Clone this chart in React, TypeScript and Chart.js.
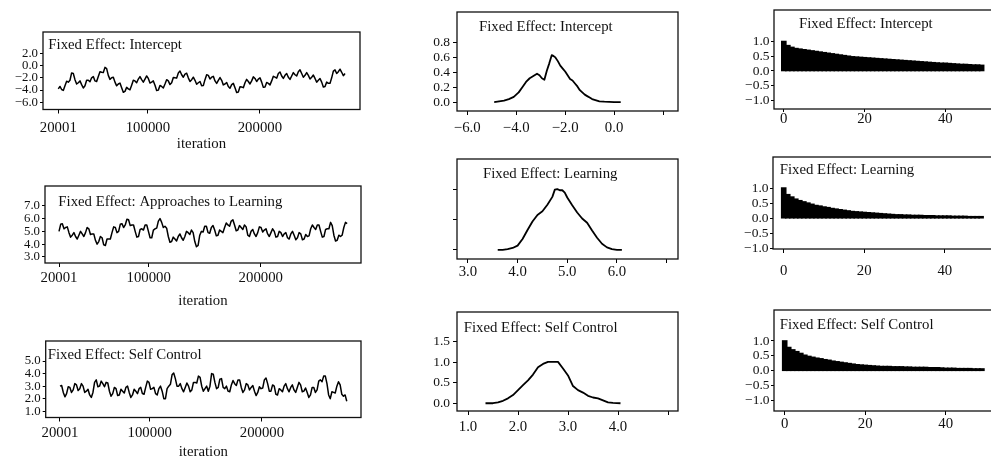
import React, { useEffect, useRef } from 'react';
import { Chart, registerables } from 'chart.js';

Chart.register(...registerables);

const FONT = '"Liberation Serif", "Times New Roman", Times, serif';
const INK = '#111111';

// ---------------- DATA ----------------
// Trace plots (posterior draws vs iteration)
const ITER_START = 20001;
const traceInterceptEnd = 276000;
const traceLearningEnd = 277000;
const traceSelfControlEnd = 275600;

const traceIntercept = [
  -3.8, -3.4, -3.9, -4.05, -3.3, -2.55, -2.7, -2.4, -1.2, -1.3, -2.3, -3.0, -2.8, -2.5, -3.1, -3.65,
  -3.3, -2.4, -2.4, -2.65, -2.0, -1.8, -2.5, -2.6, -1.8, -1.0, -1.1, -1.15, -0.3, -0.5, -1.6, -2.25,
  -2.0, -1.9, -2.7, -3.3, -3.0, -2.85, -3.6, -4.35, -4.2, -3.55, -3.8, -3.95, -3.2, -2.4, -2.5, -2.8,
  -2.2, -1.8, -2.3, -2.7, -2.2, -1.7, -2.1, -2.85, -2.7, -2.5, -3.2, -4.05, -4.0, -3.25, -3.4, -3.65,
  -3.0, -2.3, -2.5, -3.1, -2.8, -1.95, -2.0, -2.05, -1.2, -0.9, -1.5, -1.9, -1.4, -1.25, -2.0, -2.6,
  -2.3, -1.9, -2.4, -3.05, -2.8, -2.6, -3.3, -3.25, -2.3, -1.5, -1.6, -2.2, -1.9, -1.75, -2.5, -2.9,
  -2.4, -1.95, -2.4, -3.15, -3.0, -2.75, -3.4, -3.7, -3.1, -2.9, -3.6, -4.4, -4.3, -3.45, -3.5, -3.6,
  -2.8, -2.25, -2.6, -3.0, -2.5, -1.85, -2.1, -2.6, -2.2, -2.0, -2.7, -3.55, -3.5, -2.75, -2.9, -3.15,
  -2.5, -1.75, -1.9, -2.05, -1.3, -1.05, -1.7, -2.1, -1.6, -1.3, -1.9, -2.25, -1.7, -1.15, -1.5, -1.7,
  -1.0, -0.7, -1.3, -1.9, -1.6, -1.15, -1.6, -2.2, -1.9, -1.55, -2.1, -2.7, -2.4, -2.1, -2.7, -3.5,
  -3.4, -2.7, -2.9, -2.9, -2.0, -0.9, -0.7, -1.3, -1.0, -0.6, -1.1, -1.65, -1.3,
];

const traceLearning = [
  5.0, 5.55, 5.6, 5.2, 5.3, 5.35, 4.9, 4.55, 4.7, 4.9, 4.6, 4.4, 4.7, 5.0, 4.8, 4.6, 4.9, 5.3, 5.2, 4.75,
  4.8, 4.8, 4.3, 4.0, 4.2, 4.6, 4.5, 3.95, 3.9, 4.4, 4.4, 4.4, 4.9, 5.35, 5.3, 4.9, 5.0, 5.55, 5.6, 5.3,
  5.5, 5.95, 5.9, 5.45, 5.5, 5.5, 5.0, 4.55, 4.6, 5.15, 5.2, 5.1, 5.5, 5.5, 5.0, 4.5, 4.5, 5.1, 5.2, 5.25,
  5.8, 6.0, 5.7, 5.3, 5.4, 5.25, 4.6, 4.15, 4.2, 4.55, 4.4, 4.25, 4.6, 4.8, 4.5, 4.3, 4.6, 5.0, 4.9, 4.75,
  5.1, 4.9, 4.2, 3.8, 3.9, 4.7, 5.0, 4.95, 5.4, 5.4, 4.9, 4.85, 5.3, 5.45, 5.1, 4.65, 4.7, 5.1, 5.0, 4.9,
  5.3, 5.65, 5.5, 5.4, 5.8, 5.9, 5.5, 5.05, 5.1, 5.45, 5.3, 5.15, 5.5, 5.35, 4.7, 4.6, 5.0, 5.15, 4.8, 4.6,
  4.9, 5.35, 5.3, 4.95, 5.1, 5.2, 4.8, 4.6, 4.9, 5.2, 5.0, 4.55, 4.6, 5.0, 4.9, 4.6, 4.8, 4.9, 4.5, 4.4,
  4.8, 5.0, 4.7, 4.35, 4.5, 4.9, 4.8, 4.35, 4.4, 4.75, 4.6, 4.65, 5.2, 5.5, 5.3, 5.15, 5.5, 5.5, 5.0, 4.55,
  4.6, 5.15, 5.2, 5.2, 5.7, 5.45, 4.7, 4.25, 4.3, 4.7, 4.6, 4.7, 5.3, 5.7, 5.6,
];

const traceSelfControl = [
  3.0, 3.05, 2.5, 2.15, 2.4, 2.95, 2.9, 2.5, 2.7, 3.2, 3.1, 2.65, 2.8, 3.2, 3.0, 2.5, 2.6, 2.75, 2.3, 2.1,
  2.5, 3.3, 3.5, 2.95, 3.0, 3.4, 3.2, 2.95, 3.3, 3.25, 2.6, 2.2, 2.4, 2.9, 2.8, 2.25, 2.3, 2.75, 2.6, 2.45,
  2.9, 3.0, 2.5, 2.1, 2.3, 2.75, 2.6, 2.4, 2.8, 2.9, 2.4, 2.35, 2.9, 3.4, 3.3, 2.75, 2.8, 2.9, 2.4, 2.3,
  2.8, 3.0, 2.6, 2.0, 2.0, 2.8, 3.0, 3.15, 3.9, 4.05, 3.6, 3.0, 3.0, 3.2, 2.8, 2.55, 2.9, 3.25, 3.0, 2.55,
  2.7, 3.3, 3.3, 3.25, 3.8, 3.7, 3.0, 2.6, 2.8, 3.0, 2.6, 3.0, 4.0, 3.95, 3.3, 2.8, 2.9, 3.55, 3.6, 2.9,
  2.8, 3.0, 2.6, 2.55, 3.1, 3.45, 3.2, 3.05, 3.5, 3.5, 2.9, 2.5, 2.7, 3.2, 3.1, 2.7, 2.9, 3.05, 2.6, 2.25,
  2.5, 2.95, 2.8, 2.85, 3.5, 3.65, 3.2, 2.6, 2.6, 3.1, 3.0, 2.35, 2.3, 2.8, 2.7, 2.55, 3.0, 3.2, 2.8, 2.55,
  2.9, 3.1, 2.7, 2.5, 2.9, 3.3, 3.1, 2.55, 2.6, 2.85, 2.5, 2.1, 2.3, 2.9, 2.9, 2.5, 2.7, 3.4, 3.5, 3.35,
  3.8, 3.8, 3.2, 2.3, 2.0, 2.55, 2.5, 2.45, 3.0, 3.35, 3.1, 2.35, 2.2, 2.3, 1.8,
];

const traceXTicks = [20001, 100000, 200000];
const traceXTickLabels = ['20001', '100000', '200000'];
const traceInterceptYTicks = [-6, -4, -2, 0, 2];
const traceInterceptYLabels = ['\u22126.0', '\u22124.0', '\u22122.0', '0.0', '2.0'];
const traceLearningYTicks = [3, 4, 5, 6, 7];
const traceLearningYLabels = ['3.0', '4.0', '5.0', '6.0', '7.0'];
const traceSelfControlYTicks = [1, 2, 3, 4, 5];
const traceSelfControlYLabels = ['1.0', '2.0', '3.0', '4.0', '5.0'];

// Kernel density plots
const densInterceptX = [-4.9, -4.7, -4.5, -4.3, -4.1, -3.9, -3.75, -3.6, -3.45, -3.3, -3.15, -3.05, -2.95, -2.85, -2.75, -2.65, -2.55, -2.48, -2.4, -2.3, -2.2, -2.1, -2.0, -1.9, -1.8, -1.7, -1.6, -1.5, -1.4, -1.3, -1.2, -1.1, -1.0, -0.9, -0.8, -0.7, -0.6, -0.4, -0.2, 0.0, 0.27];
const densInterceptY = [0.0, 0.01, 0.02, 0.04, 0.07, 0.13, 0.2, 0.27, 0.32, 0.35, 0.38, 0.36, 0.32, 0.30, 0.42, 0.52, 0.63, 0.62, 0.60, 0.55, 0.49, 0.45, 0.41, 0.36, 0.31, 0.29, 0.25, 0.21, 0.16, 0.13, 0.10, 0.08, 0.06, 0.04, 0.03, 0.02, 0.01, 0.005, 0.002, 0.0, 0.0];
const densInterceptXTicks = [-6, -4, -2, 0, 2];
const densInterceptXLabels = ['\u22126.0', '\u22124.0', '\u22122.0', '0.0', ''];
const densInterceptYTicks = [0, 0.2, 0.4, 0.6, 0.8];
const densInterceptYLabels = ['0.0', '0.2', '0.4', '0.6', '0.8'];

const densLearningX = [3.6, 3.7, 3.8, 3.9, 4.0, 4.1, 4.2, 4.3, 4.4, 4.5, 4.6, 4.7, 4.75, 4.8, 4.85, 4.9, 4.95, 5.0, 5.1, 5.2, 5.3, 5.4, 5.5, 5.6, 5.7, 5.8, 5.9, 6.0, 6.1];
const densLearningY = [0.0, 0.0, 0.01, 0.03, 0.07, 0.18, 0.33, 0.47, 0.58, 0.64, 0.75, 0.88, 1.0, 1.01, 0.99, 0.99, 0.95, 0.87, 0.74, 0.62, 0.52, 0.45, 0.32, 0.2, 0.1, 0.04, 0.01, 0.0, 0.0];
const densLearningXTicks = [3, 4, 5, 6, 7];
const densLearningXLabels = ['3.0', '4.0', '5.0', '6.0', ''];
const densLearningYTicks = [0, 0.5, 1.0];
const densLearningYLabels = ['', '', ''];

const densSelfControlX = [1.35, 1.5, 1.6, 1.7, 1.8, 1.9, 2.0, 2.1, 2.2, 2.3, 2.4, 2.5, 2.6, 2.7, 2.8, 2.9, 3.0, 3.1, 3.2, 3.3, 3.4, 3.5, 3.6, 3.7, 3.8, 3.9, 4.05];
const densSelfControlY = [0.0, 0.0, 0.02, 0.06, 0.12, 0.2, 0.32, 0.44, 0.56, 0.7, 0.88, 0.96, 1.01, 1.01, 1.01, 0.85, 0.68, 0.42, 0.32, 0.26, 0.18, 0.14, 0.12, 0.07, 0.02, 0.01, 0.0];
const densSelfControlXTicks = [1, 2, 3, 4, 5];
const densSelfControlXLabels = ['1.0', '2.0', '3.0', '4.0', ''];
const densSelfControlYTicks = [0, 0.5, 1.0, 1.5];
const densSelfControlYLabels = ['0.0', '0.5', '1.0', '1.5'];

// Autocorrelation plots
const acfLags = Array.from({ length: 50 }, (_, i) => i);
const acfIntercept = [1.0, 0.86, 0.80, 0.76, 0.74, 0.72, 0.70, 0.68, 0.66, 0.64, 0.62, 0.60, 0.58, 0.56, 0.54, 0.52, 0.50, 0.48, 0.47, 0.46, 0.45, 0.44, 0.43, 0.42, 0.41, 0.40, 0.39, 0.38, 0.37, 0.36, 0.35, 0.34, 0.33, 0.32, 0.31, 0.30, 0.29, 0.28, 0.27, 0.26, 0.26, 0.25, 0.24, 0.23, 0.22, 0.22, 0.21, 0.20, 0.20, 0.19];
const acfLearning = [1.0, 0.78, 0.70, 0.63, 0.58, 0.54, 0.50, 0.46, 0.42, 0.40, 0.37, 0.35, 0.32, 0.30, 0.28, 0.26, 0.24, 0.22, 0.21, 0.20, 0.19, 0.18, 0.17, 0.16, 0.15, 0.14, 0.13, 0.12, 0.11, 0.11, 0.10, 0.10, 0.09, 0.09, 0.09, 0.08, 0.08, 0.08, 0.07, 0.07, 0.07, 0.07, 0.06, 0.06, 0.06, 0.06, 0.05, 0.05, 0.05, 0.05];
const acfSelfControl = [1.0, 0.78, 0.70, 0.64, 0.58, 0.52, 0.48, 0.45, 0.42, 0.40, 0.37, 0.35, 0.32, 0.30, 0.28, 0.26, 0.24, 0.22, 0.20, 0.19, 0.18, 0.17, 0.16, 0.15, 0.14, 0.14, 0.14, 0.13, 0.13, 0.13, 0.12, 0.12, 0.11, 0.11, 0.11, 0.11, 0.10, 0.10, 0.10, 0.09, 0.08, 0.08, 0.08, 0.07, 0.07, 0.07, 0.07, 0.06, 0.06, 0.06];
const acfXTicks = [0, 20, 40];
const acfXLabels = ['0', '20', '40'];
const acfYTicks = [-1, -0.5, 0, 0.5, 1];
const acfYLabels = ['\u22121.0', '\u22120.5', '0.0', '0.5', '1.0'];

const TITLE_INTERCEPT = 'Fixed Effect: Intercept';
const TITLE_APPROACHES = 'Fixed Effect: Approaches to Learning';
const TITLE_LEARNING = 'Fixed Effect: Learning';
const TITLE_SELF = 'Fixed Effect: Self Control';

// ---------------- LAYOUT ----------------
const PAD_TOP = 12;
const PAD_RIGHT = 4;

type Kind = 'trace' | 'density' | 'acf';
type PanelSpec = {
  kind: Kind;
  title: string;
  box: [number, number, number, number];
  yW: number;
  xH: number;
  xRange: [number, number];
  yRange: [number, number];
  xTicks: number[];
  xLabels: string[];
  yTicks: number[];
  yLabels: string[];
  xs: number[];
  ys: number[];
  titleDx: number;
  titleDy: number;
  xTL: number;
  xPad: number;
  yTL: number;
  yPad: number;
  yFont: number;
};

function iterations(n: number, end: number): number[] {
  const step = (end - ITER_START) / (n - 1);
  return Array.from({ length: n }, (_, i) => ITER_START + i * step);
}

const PANELS: PanelSpec[] = [
  {
    kind: 'trace', title: TITLE_INTERCEPT, box: [43, 32, 360, 109], yW: 43, xH: 42.5,
    xRange: [6340, 289376], yRange: [-7.15, 5.45],
    xTicks: traceXTicks, xLabels: traceXTickLabels, yTicks: traceInterceptYTicks, yLabels: traceInterceptYLabels,
    xs: iterations(traceIntercept.length, traceInterceptEnd), ys: traceIntercept,
    titleDx: 5.3, titleDy: 16.6, xTL: 4, xPad: 7.5, yTL: 3, yPad: 2, yFont: 12.8,
  },
  {
    kind: 'trace', title: TITLE_APPROACHES, box: [45, 186, 360.7, 263], yW: 45, xH: 46,
    xRange: [7501, 289376], yRange: [2.53, 8.54],
    xTicks: traceXTicks, xLabels: traceXTickLabels, yTicks: traceLearningYTicks, yLabels: traceLearningYLabels,
    xs: iterations(traceLearning.length, traceLearningEnd), ys: traceLearning,
    titleDx: 13.3, titleDy: 19.6, xTL: 4, xPad: 4, yTL: 3, yPad: 2, yFont: 12.8,
  },
  {
    kind: 'trace', title: TITLE_SELF, box: [45.7, 340.5, 361.3, 417], yW: 45.7, xH: 42.5,
    xRange: [7267, 288301], yRange: [0.5, 6.6],
    xTicks: traceXTicks, xLabels: traceXTickLabels, yTicks: traceSelfControlYTicks, yLabels: traceSelfControlYLabels,
    xs: iterations(traceSelfControl.length, traceSelfControlEnd), ys: traceSelfControl,
    titleDx: 2, titleDy: 18.4, xTL: 4, xPad: 4.2, yTL: 3, yPad: 2, yFont: 12.8,
  },
  {
    kind: 'density', title: TITLE_INTERCEPT, box: [456.5, 12, 677, 111], yW: 60, xH: 30,
    xRange: [-6.42, 2.61], yRange: [-0.12, 1.21],
    xTicks: densInterceptXTicks, xLabels: densInterceptXLabels, yTicks: densInterceptYTicks, yLabels: densInterceptYLabels,
    xs: densInterceptX, ys: densInterceptY,
    titleDx: 22, titleDy: 19.3, xTL: 4, xPad: 5.5, yTL: 4, yPad: 3, yFont: 13.5,
  },
  {
    kind: 'density', title: TITLE_LEARNING, box: [456.7, 158.5, 677.7, 258.5], yW: 60, xH: 30,
    xRange: [2.78, 7.23], yRange: [-0.153, 1.51],
    xTicks: densLearningXTicks, xLabels: densLearningXLabels, yTicks: densLearningYTicks, yLabels: densLearningYLabels,
    xs: densLearningX, ys: densLearningY,
    titleDx: 26, titleDy: 19.4, xTL: 4, xPad: 1.5, yTL: 4, yPad: 3, yFont: 13.5,
  },
  {
    kind: 'density', title: TITLE_SELF, box: [457.3, 312, 678.3, 410.5], yW: 60, xH: 30,
    xRange: [0.78, 5.2], yRange: [-0.19, 2.23],
    xTicks: densSelfControlXTicks, xLabels: densSelfControlXLabels, yTicks: densSelfControlYTicks, yLabels: densSelfControlYLabels,
    xs: densSelfControlX, ys: densSelfControlY,
    titleDx: 6.7, titleDy: 20.3, xTL: 4, xPad: 4.5, yTL: 4, yPad: 3, yFont: 13.5,
  },
  {
    kind: 'acf', title: TITLE_INTERCEPT, box: [773.5, 10, 998, 109.3], yW: 50, xH: 30,
    xRange: [-2.43, 53.3], yRange: [-1.29, 2.07],
    xTicks: acfXTicks, xLabels: acfXLabels, yTicks: acfYTicks, yLabels: acfYLabels,
    xs: acfLags, ys: acfIntercept,
    titleDx: 25, titleDy: 17.9, xTL: 3, xPad: 0, yTL: 3, yPad: 1.5, yFont: 13.5,
  },
  {
    kind: 'acf', title: TITLE_LEARNING, box: [773.3, 157.3, 998, 249], yW: 50, xH: 32,
    xRange: [-2.66, 53.2], yRange: [-1.02, 2.03],
    xTicks: acfXTicks, xLabels: acfXLabels, yTicks: acfYTicks, yLabels: acfYLabels,
    xs: acfLags, ys: acfLearning,
    titleDx: 6.7, titleDy: 17.3, xTL: 4, xPad: 11, yTL: 3, yPad: 1.5, yFont: 13.5,
  },
  {
    kind: 'acf', title: TITLE_SELF, box: [774.3, 310, 998, 411], yW: 50, xH: 30,
    xRange: [-2.66, 53.0], yRange: [-1.35, 2.04],
    xTicks: acfXTicks, xLabels: acfXLabels, yTicks: acfYTicks, yLabels: acfYLabels,
    xs: acfLags, ys: acfSelfControl,
    titleDx: 5.7, titleDy: 18.9, xTL: 4, xPad: 2, yTL: 3, yPad: 1.5, yFont: 13.5,
  },
];

function buildConfig(p: PanelSpec): any {
  const points = p.xs.map((x, i) => ({ x, y: p.ys[i] }));
  const dataset: any =
    p.kind === 'acf'
      ? {
          type: 'bar', data: points, backgroundColor: '#000', borderWidth: 0,
          barPercentage: 1, categoryPercentage: 1, inflateAmount: 0.8,
        }
      : {
          type: 'line', data: points, borderColor: '#000',
          borderWidth: p.kind === 'trace' ? 1.5 : 1.8, pointRadius: 0, tension: 0, fill: false,
          borderJoinStyle: 'round',
        };

  const boxPlugin = {
    id: 'panelBox',
    afterDatasetsDraw(chart: any) {
      const { ctx, chartArea: a } = chart;
      ctx.save();
      ctx.strokeStyle = INK;
      ctx.lineWidth = 1.3;
      ctx.strokeRect(a.left, a.top, a.right - a.left, a.bottom - a.top);
      ctx.font = `14.8px ${FONT}`;
      ctx.fillStyle = INK;
      ctx.textAlign = 'left';
      ctx.textBaseline = 'alphabetic';
      ctx.fillText(p.title, a.left + p.titleDx, a.top + p.titleDy);
      ctx.restore();
    },
  };

  return {
    type: p.kind === 'acf' ? 'bar' : 'line',
    data: { datasets: [dataset] },
    options: {
      animation: false,
      responsive: false,
      devicePixelRatio: 1,
      events: [],
      layout: { padding: { top: PAD_TOP, right: PAD_RIGHT, left: 0, bottom: 0 } },
      plugins: { legend: { display: false }, tooltip: { enabled: false }, title: { display: false } },
      scales: {
        x: {
          type: 'linear',
          min: p.xRange[0],
          max: p.xRange[1],
          offset: false,
          afterBuildTicks: (s: any) => { s.ticks = p.xTicks.map((v) => ({ value: v })); },
          afterFit: (s: any) => { s.height = p.xH; },
          ticks: {
            autoSkip: false, maxRotation: 0, minRotation: 0, padding: p.xPad, color: INK,
            font: { family: FONT, size: 14.8, lineHeight: 1 },
            callback: (_v: any, i: number) => p.xLabels[i],
          },
          grid: { display: true, drawOnChartArea: false, drawTicks: true, tickLength: p.xTL, color: '#000', offset: false },
          border: { display: false },
          title: p.kind === 'trace'
            ? { display: true, text: 'iteration', color: INK, font: { family: FONT, size: 14.8, lineHeight: 1 }, padding: { top: 0, bottom: 0 } }
            : { display: false },
        },
        y: {
          type: 'linear',
          min: p.yRange[0],
          max: p.yRange[1],
          afterBuildTicks: (s: any) => { s.ticks = p.yTicks.map((v) => ({ value: v })); },
          afterFit: (s: any) => { s.width = p.yW; },
          ticks: {
            autoSkip: false, padding: p.yPad, color: INK,
            font: { family: FONT, size: p.yFont, lineHeight: 1 },
            callback: (_v: any, i: number) => p.yLabels[i],
          },
          grid: { display: true, drawOnChartArea: false, drawTicks: true, tickLength: p.yTL, color: '#000' },
          border: { display: false },
        },
      },
    },
    plugins: [boxPlugin],
  };
}

function Panel({ p }: { p: PanelSpec }) {
  const ref = useRef<HTMLCanvasElement | null>(null);
  const [l, t, r, b] = p.box;
  const left = Math.round(l - p.yW);
  const top = Math.round(t - PAD_TOP);
  const width = Math.round(p.yW + (r - l) + PAD_RIGHT);
  const height = Math.round(PAD_TOP + (b - t) + p.xH);

  useEffect(() => {
    const canvas = ref.current;
    if (!canvas) return;
    const chart = new Chart(canvas, buildConfig(p));
    return () => chart.destroy();
  }, [p]);

  return (
    <canvas
      ref={ref}
      width={width}
      height={height}
      style={{ position: 'absolute', left, top, width, height }}
    />
  );
}

export default function App() {
  return (
    <div
      style={{
        position: 'fixed', left: 0, top: 0, width: 991, height: 460,
        overflow: 'hidden', background: '#ffffff',
      }}
    >
      {PANELS.map((p, i) => (
        <Panel key={i} p={p} />
      ))}
    </div>
  );
}
